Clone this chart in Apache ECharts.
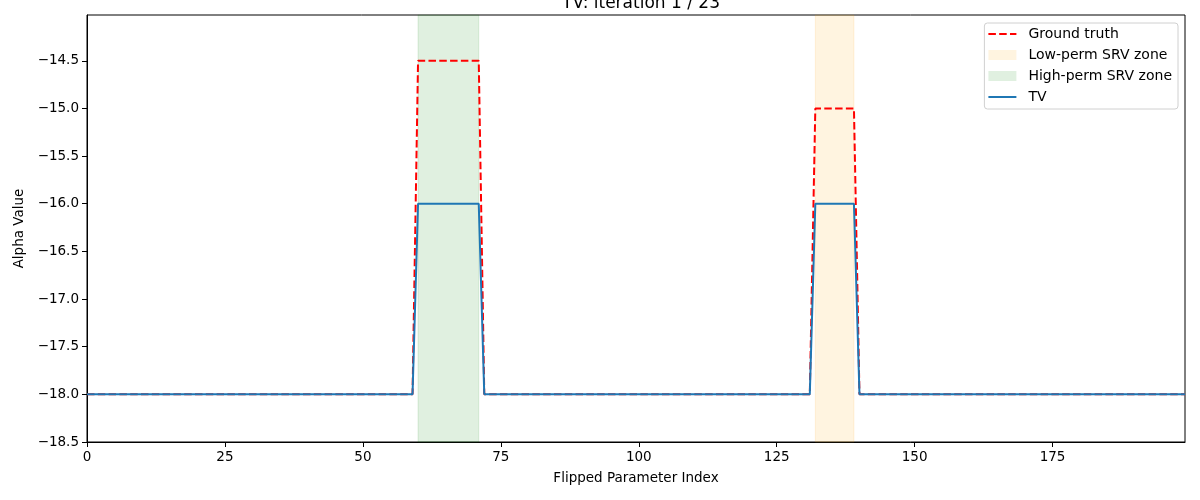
<!DOCTYPE html>
<html>
<head>
<meta charset="utf-8">
<title>TV: iteration 1 / 23</title>
<script src="https://cdn.jsdelivr.net/npm/echarts@6/dist/echarts.min.js"></script>
<style>
  html, body { margin: 0; padding: 0; background: #fff; }
  #chart { width: 1200px; height: 500px; }
</style>
</head>
<body>
<div id="chart"></div>
<script>
// breakpoints of the piecewise-constant profiles (flipped parameter index -> alpha)
const gtIndex = [0, 59, 60, 71, 72, 131, 132, 139, 140, 199];
const gtValue = [-18, -18, -14.5, -14.5, -18, -18, -15, -15, -18, -18];
const tvIndex = [0, 59, 60, 71, 72, 131, 132, 139, 140, 199];
const tvValue = [-18, -18, -16, -16, -18, -18, -16, -16, -18, -18];

// SRV zones [start, end]
const lowPermZones = [[132, 139]];
const highPermZones = [[60, 71]];

const xTicks = [0, 25, 50, 75, 100, 125, 150, 175];
const yTicks = [-18.5, -18, -17.5, -17, -16.5, -16, -15.5, -15, -14.5];

const FONT = 'DejaVu Sans';
const minus = s => String(s).replace('-', '\u2212');

const pairs = (xs, ys) => xs.map((x, i) => [x, ys[i]]);

// vertical band across the whole plot height
function zoneItem(params, api) {
  const x0 = api.coord([api.value(0), 0])[0];
  const x1 = api.coord([api.value(1), 0])[0];
  const cs = params.coordSys;
  return {
    type: 'rect',
    shape: { x: x0, y: cs.y, width: x1 - x0, height: cs.height },
    style: { fill: api.visual('color'), stroke: api.visual('color'), lineWidth: 1 }
  };
}

const chart = echarts.init(document.getElementById('chart'), null, { renderer: 'canvas' });

chart.setOption({
  animation: false,
  backgroundColor: '#fff',
  textStyle: { fontFamily: FONT, color: '#000' },
  title: {
    text: 'TV: iteration 1 / 23',
    left: 636,
    textAlign: 'center',
    top: -10,
    textStyle: { fontFamily: FONT, fontSize: 17, fontWeight: 'normal', color: '#000' }
  },
  grid: {
    left: 87, right: 15, top: 15, bottom: 58,
    show: true, borderColor: '#000', borderWidth: 1, backgroundColor: 'transparent'
  },
  legend: {
    orient: 'vertical',
    right: 22,
    top: 23,
    padding: [4, 6, 5, 3],
    itemWidth: 28,
    itemHeight: 10,
    itemGap: 7,
    backgroundColor: 'rgba(255,255,255,0.8)',
    borderColor: '#d0d0d0',
    borderWidth: 1,
    borderRadius: 3,
    textStyle: { fontFamily: FONT, fontSize: 14, color: '#000', padding: [0, 0, 0, 7] },
    data: [
      { name: 'Ground truth', itemStyle: { opacity: 0 } },
      { name: 'Low-perm SRV zone', icon: 'rect' },
      { name: 'High-perm SRV zone', icon: 'rect' },
      { name: 'TV', itemStyle: { opacity: 0 } }
    ]
  },
  xAxis: {
    type: 'value',
    min: 0,
    max: 199,
    interval: 25,
    name: 'Flipped Parameter Index',
    nameLocation: 'middle',
    nameGap: 29,
    nameTextStyle: { fontFamily: FONT, fontSize: 13.5, color: '#000' },
    axisLine: { show: true, onZero: false, lineStyle: { color: '#000', width: 1 } },
    axisTick: { show: true, length: 5, lineStyle: { color: '#000' } },
    axisLabel: {
      showMaxLabel: false,
      margin: 8,
      fontFamily: FONT, fontSize: 13.5, color: '#000',
      formatter: v => (xTicks.includes(v) ? minus(v) : '')
    },
    splitLine: { show: false }
  },
  yAxis: {
    type: 'value',
    min: -18.5,
    max: -14.02,
    interval: 0.5,
    name: 'Alpha Value',
    nameLocation: 'middle',
    nameGap: 58,
    nameTextStyle: { fontFamily: FONT, fontSize: 13.5, color: '#000' },
    axisLine: { show: true, onZero: false, lineStyle: { color: '#000', width: 1 } },
    axisTick: { show: true, length: 5, lineStyle: { color: '#000' } },
    axisLabel: {
      showMaxLabel: false,
      margin: 8,
      fontFamily: FONT, fontSize: 13.5, color: '#000',
      formatter: v => (yTicks.some(t => Math.abs(t - v) < 1e-9) ? minus(v.toFixed(1)) : '')
    },
    splitLine: { show: false }
  },
  series: [
    {
      name: 'Low-perm SRV zone',
      type: 'custom',
      renderItem: zoneItem,
      itemStyle: { color: 'rgba(255,165,0,0.12)' },
      encode: { x: [0, 1] },
      data: lowPermZones,
      z: 1
    },
    {
      name: 'High-perm SRV zone',
      type: 'custom',
      renderItem: zoneItem,
      itemStyle: { color: 'rgba(0,128,0,0.12)' },
      encode: { x: [0, 1] },
      data: highPermZones,
      z: 1
    },
    {
      name: 'Ground truth',
      type: 'line',
      data: pairs(gtIndex, gtValue),
      symbol: 'none',
      color: '#ff0000',
      lineStyle: { color: '#ff0000', width: 2, type: [7.5, 3.3] },
      z: 3
    },
    {
      name: 'TV',
      type: 'line',
      data: pairs(tvIndex, tvValue),
      symbol: 'none',
      color: '#1f77b4',
      lineStyle: { color: '#1f77b4', width: 2 },
      z: 4
    }
  ]
});
</script>
</body>
</html>
